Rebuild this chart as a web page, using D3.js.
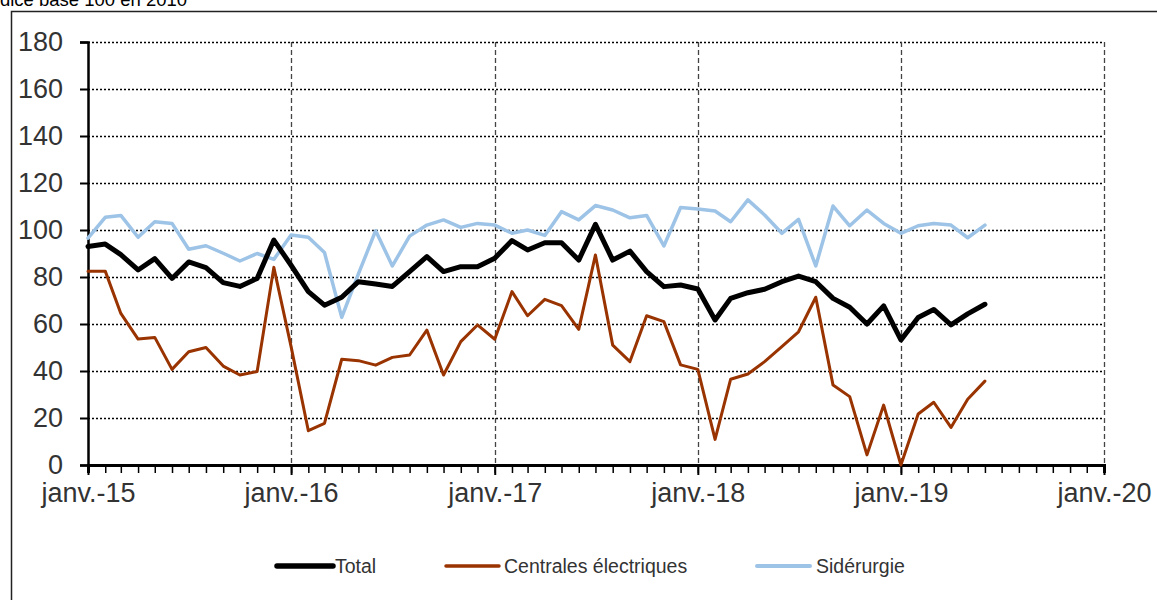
<!DOCTYPE html>
<html>
<head>
<meta charset="utf-8">
<script src="https://cdn.jsdelivr.net/npm/d3@7"></script>
<style>
  body { margin: 0; background: #fff; }
  svg { display: block; font-family: "Liberation Sans", Arial, sans-serif; }
</style>
</head>
<body>
<div class="js-canvas"></div>
<script>
'use strict';

// monthly data, janv. 2015 -> juin 2019
const startMonth = '2015-01-01';
const total = [93, 94, 89.5, 83, 87.8, 79.4, 86.4, 84, 77.6, 76, 79.4, 95.7,
    85, 73.8, 68, 71.4, 78, 77, 76, 82.3, 88.7, 82.3, 84.4, 84.4,
    88, 95.5, 91.5, 94.6, 94.6, 87.2, 102.4, 87.2, 91, 82.3, 75.9, 76.6,
    74.9, 61.7, 70.9, 73.3, 74.8, 78, 80.4, 78, 70.9, 67.1, 60, 67.7,
    53.2, 62.8, 66.2, 59.6, 64.3, 68.4];
const centrales = [82.5, 82.5, 64.5, 53.6, 54.3, 40.7, 48.2, 50, 42.1, 38.3, 39.8, 84.1,
    50.4, 14.6, 17.7, 45, 44.4, 42.5, 45.8, 46.8, 57.4, 38.3, 52.5, 59.6,
    53.5, 73.8, 63.5, 70.5, 67.8, 57.7, 89.4, 51, 44, 63.5, 61, 42.6,
    40.7, 10.9, 36.5, 38.7, 44, 50.4, 56.7, 71.4, 34, 29.1, 4.3, 25.5,
    0, 21.7, 26.7, 16, 28, 35.7];
const siderurgie = [96.5, 105.4, 106.2, 96.9, 103.5, 102.8, 91.8, 93.3, 90.1, 86.8, 90, 87.5,
    97.9, 96.9, 90.4, 62.8, 81.3, 99.7, 84.7, 97.4, 102.1, 104.3, 101.1, 102.8,
    102.1, 98.6, 100, 97.7, 107.8, 104.3, 110.4, 108.5, 105.2, 106.2, 93.2, 109.6,
    108.9, 108.1, 103.5, 112.8, 106.4, 98.6, 104.5, 84.7, 110.2, 101.8, 108.5, 102.8,
    98.6, 101.8, 102.8, 102.1, 96.7, 102.1];
const seriesNames = ['Total', 'Centrales électriques', 'Sidérurgie'];
const yTicks = [0, 20, 40, 60, 80, 100, 120, 140, 160, 180];
const xDomain = ['2015-01-01', '2020-01-01'];
const subtitle = 'Indice base 100 en 2010';

const config = {
    width: 1157,
    height: 600,
    margin: { top: 42, left: 88, right: 53, bottom: 135 }
};
const graphWidth = config.width - config.margin.left - config.margin.right;
const graphHeight = config.height - config.margin.top - config.margin.bottom;

const styles = [
    { color: '#000000', width: 5 },
    { color: '#993300', width: 3 },
    { color: '#9dc3e6', width: 3.5 }
];

const start = new Date(startMonth);
const months = total.map((d, i) => d3.timeMonth.offset(start, i));
const series = [total, centrales, siderurgie].map((vals, k) => ({
    name: seriesNames[k],
    style: styles[k],
    values: vals.map((v, i) => ({ date: months[i], value: v }))
}));

const svg = d3.select('.js-canvas')
    .append('svg')
    .attr('width', config.width)
    .attr('height', config.height);

// subtitle, cut by the top-left edge as in the source
svg.append('text')
    .attr('x', -15.5)
    .attr('y', 6)
    .attr('font-size', 18.5)
    .attr('fill', '#000')
    .text(subtitle);

// outer frame
svg.append('rect')
    .attr('x', 11.5)
    .attr('y', 11.5)
    .attr('width', 1200)
    .attr('height', 700)
    .attr('fill', 'none')
    .attr('stroke', '#222')
    .attr('stroke-width', 1.5);

const graph = svg.append('g')
    .attr('transform', `translate(${config.margin.left}, ${config.margin.top})`);

const x = d3.scaleTime()
    .domain(xDomain.map(d => new Date(d)))
    .range([0, graphWidth]);

const y = d3.scaleLinear()
    .domain([0, 180])
    .range([graphHeight, 0]);

const years = d3.timeYear.range(new Date(xDomain[0]), d3.timeDay.offset(new Date(xDomain[1]), 1));

// horizontal dotted grid
graph.append('g')
    .selectAll('line')
    .data(yTicks.filter(d => d > 0))
    .enter().append('line')
    .attr('x1', 0)
    .attr('x2', graphWidth)
    .attr('y1', d => Math.round(y(d)) + 0.5)
    .attr('y2', d => Math.round(y(d)) + 0.5)
    .attr('stroke', '#000')
    .attr('stroke-width', 1.5)
    .attr('stroke-dasharray', '2,2');

// vertical dashed grid, one per year
graph.append('g')
    .selectAll('line')
    .data(years.slice(1))
    .enter().append('line')
    .attr('x1', d => Math.round(x(d)) + 0.5)
    .attr('x2', d => Math.round(x(d)) + 0.5)
    .attr('y1', 0)
    .attr('y2', graphHeight)
    .attr('stroke', '#444')
    .attr('stroke-width', 1.3)
    .attr('stroke-dasharray', '5,3');

// axes
const yAxis = d3.axisLeft(y)
    .tickValues(yTicks)
    .tickSize(8)
    .tickPadding(17);

const yAxisGroup = graph.append('g').call(yAxis);
yAxisGroup.select('.domain').attr('stroke', '#000').attr('stroke-width', 2.5);
yAxisGroup.selectAll('.tick line').attr('stroke', '#000').attr('stroke-width', 2);
yAxisGroup.selectAll('text')
    .attr('font-size', 27)
    .attr('fill', '#333')
    .attr('font-family', '"Liberation Sans", Arial, sans-serif');

const xMinor = d3.axisBottom(x)
    .ticks(d3.timeMonth.every(1))
    .tickSize(8)
    .tickFormat('');

const xMinorGroup = graph.append('g')
    .attr('transform', `translate(0, ${graphHeight})`)
    .call(xMinor);
xMinorGroup.select('.domain').attr('stroke', '#000').attr('stroke-width', 3);
xMinorGroup.selectAll('.tick line').attr('stroke', '#000').attr('stroke-width', 1.5);

const frMonth = d3.timeFormat('%y');
const xMajor = d3.axisBottom(x)
    .tickValues(years)
    .tickSize(10)
    .tickPadding(8)
    .tickFormat(d => 'janv.-' + frMonth(d));

const xMajorGroup = graph.append('g')
    .attr('transform', `translate(0, ${graphHeight})`)
    .call(xMajor);
xMajorGroup.select('.domain').remove();
xMajorGroup.selectAll('.tick line').attr('stroke', '#000').attr('stroke-width', 2);
xMajorGroup.selectAll('text')
    .attr('font-size', 27)
    .attr('fill', '#333')
    .attr('font-family', '"Liberation Sans", Arial, sans-serif');

// lines, drawn so that Total is on top
const line = d3.line()
    .x(d => x(d.date))
    .y(d => y(d.value));

graph.append('g')
    .selectAll('path')
    .data(series.slice().reverse())
    .enter().append('path')
    .attr('d', d => line(d.values))
    .attr('fill', 'none')
    .attr('stroke', d => d.style.color)
    .attr('stroke-width', d => d.style.width)
    .attr('stroke-linejoin', 'round')
    .attr('stroke-linecap', 'round');

// legend
const legendPos = [277, 446, 757];
const legend = svg.append('g')
    .selectAll('g')
    .data(series)
    .enter().append('g')
    .attr('transform', (d, i) => `translate(${legendPos[i]}, 566)`);

legend.append('line')
    .attr('x1', 0)
    .attr('x2', (d, i) => i === 0 ? 56 : 53)
    .attr('stroke', d => d.style.color)
    .attr('stroke-width', d => d.style.width + 0.5)
    .attr('stroke-linecap', 'round');

legend.append('text')
    .attr('x', (d, i) => i === 0 ? 58 : (i === 1 ? 58 : 59))
    .attr('y', 7)
    .attr('font-size', 19.5)
    .attr('fill', '#333')
    .text(d => d.name);
</script>
</body>
</html>
